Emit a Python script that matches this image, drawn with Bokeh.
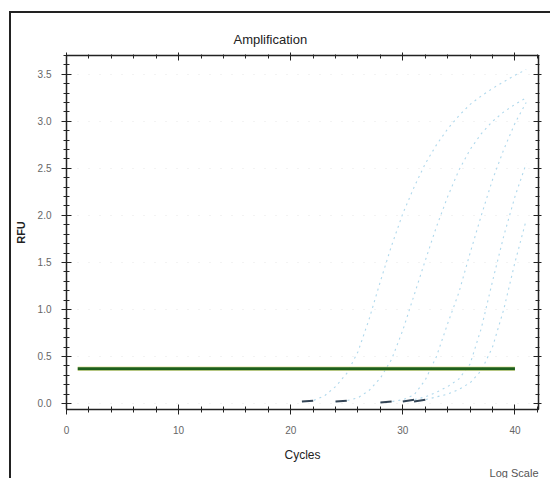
from bokeh.plotting import figure
from bokeh.models import (LinearAxis, SingleIntervalTicker, PrintfTickFormatter,
                          Range1d, Title)
from bokeh.embed import file_html
from bokeh.resources import INLINE

# ---- data ----
cycles_a = [21, 22, 23, 24, 25, 26, 27, 28, 29, 30, 31, 32, 33, 34, 35, 36, 37, 38, 39, 40, 41]
rfu_a = [0.02, 0.03, 0.08, 0.18, 0.32, 0.55, 0.90, 1.30, 1.68, 2.02, 2.30, 2.55, 2.75, 2.92,
         3.06, 3.18, 3.27, 3.35, 3.42, 3.49, 3.55]

cycles_b = [24, 25, 26, 27, 28, 29, 30, 31, 32, 33, 34, 35, 36, 37, 38, 39, 40, 41]
rfu_b = [0.02, 0.03, 0.06, 0.14, 0.27, 0.47, 0.78, 1.15, 1.52, 1.88, 2.20, 2.48, 2.70, 2.87,
         3.00, 3.10, 3.18, 3.25]

cycles_c = [28, 29, 30, 31, 32, 33, 34, 35, 36, 37, 38, 39, 40, 41]
rfu_c = [0.01, 0.02, 0.04, 0.09, 0.25, 0.50, 0.85, 1.18, 1.60, 2.00, 2.38, 2.70, 2.98, 3.20]

cycles_d = [30, 31, 32, 33, 34, 35, 36, 37, 38, 39, 40, 41]
rfu_d = [0.02, 0.04, 0.07, 0.12, 0.18, 0.26, 0.42, 0.80, 1.30, 1.78, 2.20, 2.55]

cycles_e = [31, 32, 33, 34, 35, 36, 37, 38, 39, 40, 41]
rfu_e = [0.02, 0.04, 0.07, 0.10, 0.15, 0.22, 0.35, 0.60, 1.00, 1.50, 1.95]

curves = [(cycles_a, rfu_a), (cycles_b, rfu_b), (cycles_c, rfu_c),
          (cycles_d, rfu_d), (cycles_e, rfu_e)]

threshold_rfu = 0.37
threshold_cycles = [1, 40]

title_text = "Amplification"
x_label = "Cycles"
y_label = "RFU"
scale_text = "Log Scale"

# ---- figure ----
p = figure(frame_width=472, frame_height=354,
           min_border_left=54, min_border_top=42, min_border_right=13, min_border_bottom=62,
           x_range=Range1d(0, 42.1), y_range=Range1d(-0.064, 3.70),
           output_backend="svg", toolbar_location=None,
           background_fill_color="white", border_fill_color="white")
p.margin = (11, 0, 0, 9)
p.styles = {"border-left": "2px solid #222", "border-top": "2px solid #222"}

p.title.text = title_text
p.title.align = "left"
p.title.offset = 167
p.title.standoff = 11
p.title.text_font = "Liberation Sans"
p.title.text_font_size = "13px"
p.title.text_font_style = "normal"
p.title.text_color = "#222222"

p.outline_line_color = "#222222"
p.xgrid.grid_line_color = None
p.ygrid.grid_line_color = "#d6d6d6"
p.ygrid.grid_line_dash = "1 10"
p.ygrid.grid_line_alpha = 0.6

xt = SingleIntervalTicker(interval=10, num_minor_ticks=5)
yt = SingleIntervalTicker(interval=0.5, num_minor_ticks=5)
p.xaxis.ticker = xt
p.yaxis.ticker = yt
p.xgrid.ticker = xt
p.ygrid.ticker = yt
p.yaxis.formatter = PrintfTickFormatter(format="%.1f")

for ax in (p.xaxis[0], p.yaxis[0]):
    ax.axis_line_color = "#222222"
    ax.axis_line_width = 1.5
    ax.major_tick_line_color = "#222222"
    ax.minor_tick_line_color = "#222222"
    ax.major_tick_in = 5
    ax.major_tick_out = 5
    ax.minor_tick_in = 3
    ax.minor_tick_out = 3
    ax.major_label_text_font = "Liberation Sans"
    ax.major_label_text_font_size = "10px"
    ax.major_label_text_color = "#666666"
    ax.axis_label_text_font = "Liberation Sans"
    ax.axis_label_text_color = "#222222"

p.xaxis.axis_label = x_label
p.xaxis.axis_label_text_font_size = "12px"
p.xaxis.axis_label_text_font_style = "normal"
p.xaxis.major_label_standoff = 11
p.xaxis.axis_label_standoff = 11

p.yaxis.axis_label = y_label
p.yaxis.axis_label_text_font_size = "11px"
p.yaxis.axis_label_text_font_style = "bold"
p.yaxis.major_label_standoff = 10
p.yaxis.axis_label_standoff = 8

top = LinearAxis(ticker=xt, major_label_text_color=None, axis_line_color="#222222",
                 axis_line_width=1.5, major_tick_in=5, major_tick_out=3,
                 minor_tick_in=3, minor_tick_out=1,
                 major_tick_line_color="#222222", minor_tick_line_color="#222222")
right = LinearAxis(ticker=yt, major_label_text_color=None, axis_line_color="#222222",
                   axis_line_width=1.5, major_tick_in=5, major_tick_out=3,
                   minor_tick_in=3, minor_tick_out=1,
                   major_tick_line_color="#222222", minor_tick_line_color="#222222")
p.add_layout(top, "above")
p.add_layout(right, "right")

# amplification curves (faint dotted)
for cx, cy in curves:
    p.line(cx, cy, line_color="#a6d4ea", line_width=1.1, line_dash="2 4", line_alpha=0.9)
    p.line(cx[:2], cy[:2], line_color="#334455", line_width=2)

# threshold line
p.line(threshold_cycles, [threshold_rfu, threshold_rfu], line_color="#d8d86a",
       line_width=4.5, line_alpha=0.6)
p.line(threshold_cycles, [threshold_rfu, threshold_rfu], line_color="#1d5f1d", line_width=3)

p.add_layout(Title(text=scale_text, align="right", text_font_size="11px",
                   text_font="Liberation Sans", text_font_style="normal",
                   text_color="#555555", offset=0, standoff=0), "below")

open("out.html", "w").write(file_html(p, INLINE))
